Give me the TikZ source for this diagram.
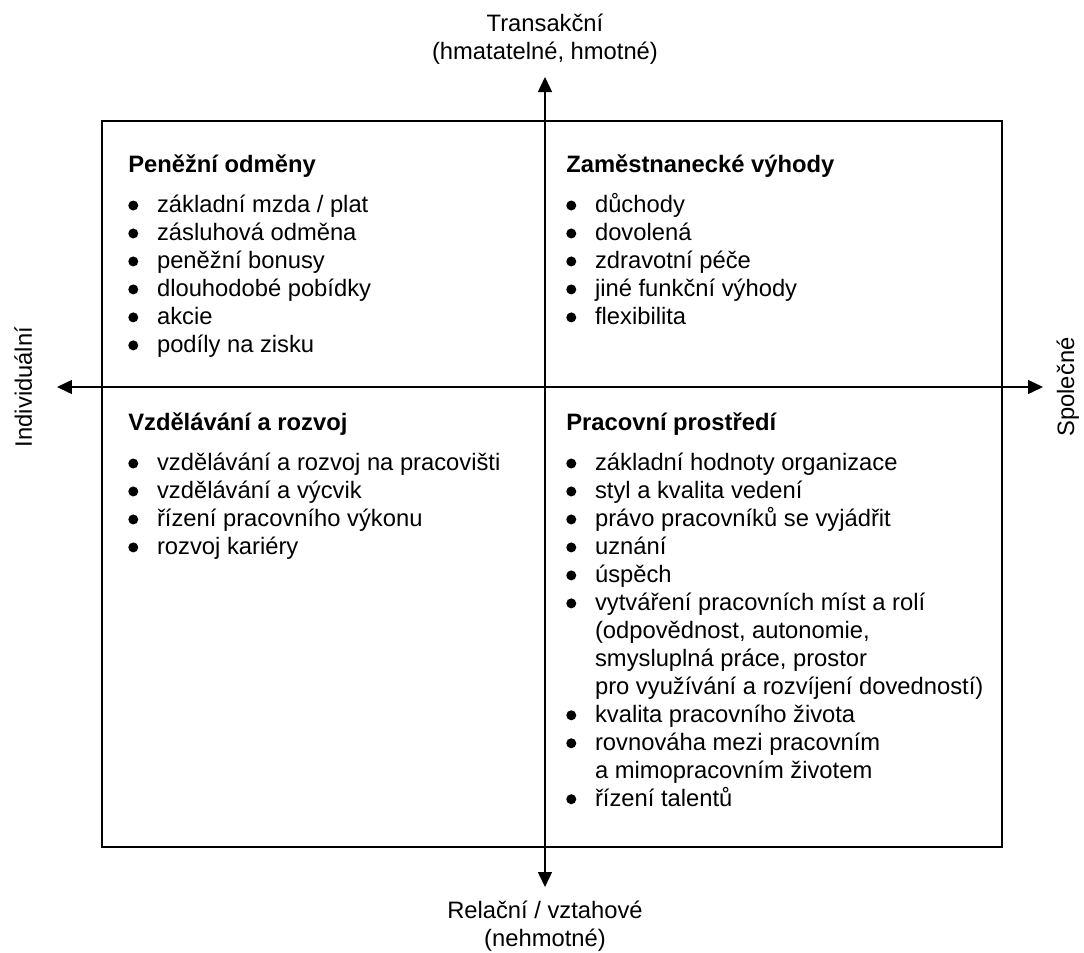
\documentclass[tikz,border=0pt]{standalone}
\usepackage{fontspec}
\setmainfont{Liberation Sans}
\usetikzlibrary{arrows.meta, positioning}
\newcommand{\bdot}{\makebox[7.2mm][l]{\tikz[baseline=0pt]{\path (0,0); \fill (1.25mm,1.75mm) circle (1.25mm);}}}
\newcommand{\cont}{\hspace*{7.2mm}}

\begin{document}
\begin{tikzpicture}[
  txt/.style={font=\fontsize{16.9}{19.9}\selectfont, inner sep=0pt},
  quad/.style={txt, align=left, anchor=north west},
  lbl/.style={txt, align=center},
  axis/.style={{Triangle[length=3.75mm, width=3.5mm]}-{Triangle[length=3.75mm, width=3.5mm]}, line width=1pt},
  frame/.style={line width=1pt}
]
\useasboundingbox (-13.625,9.675) rectangle (13.475,-14.125);
\draw[frame] (-11.075,6.65) rectangle (11.425,-11.5);

\coordinate (top) at (0,7.75);
\coordinate (bottom) at (0,-12.5);
\coordinate (left) at (-12.2,0);
\coordinate (right) at (12.45,0);
\draw[axis] (bottom) -- (top);
\draw[axis] (left) -- (right);

\node[lbl, above=3mm of top] (trans) {Transakční\\(hmatatelné, hmotné)};
\node[lbl, below=3.5mm of bottom] (rel) {Relační / vztahové\\(nehmotné)};
\node[txt, rotate=90, anchor=base] (indiv) at (-12.825,0) {Individuální};
\node[txt, rotate=90, anchor=base] (spol) at (13.225,0) {Společné};

\node[quad] (money) at (-10.425,5.8125) {\textbf{Peněžní odměny}\\[0.3cm]
  \bdot základní mzda / plat\\
  \bdot zásluhová odměna\\
  \bdot peněžní bonusy\\
  \bdot dlouhodobé pobídky\\
  \bdot akcie\\
  \bdot podíly na zisku};
\node[quad] (benefits) at (0.525,5.8125) {\textbf{Zaměstnanecké výhody}\\[0.3cm]
  \bdot důchody\\
  \bdot dovolená\\
  \bdot zdravotní péče\\
  \bdot jiné funkční výhody\\
  \bdot flexibilita};
\node[quad] (learning) at (-10.425,-0.6375) {\textbf{Vzdělávání a rozvoj}\\[0.3cm]
  \bdot vzdělávání a rozvoj na pracovišti\\
  \bdot vzdělávání a výcvik\\
  \bdot řízení pracovního výkonu\\
  \bdot rozvoj kariéry};
\node[quad] (workenv) at (0.525,-0.6375) {\textbf{Pracovní prostředí}\\[0.3cm]
  \bdot základní hodnoty organizace\\
  \bdot styl a kvalita vedení\\
  \bdot právo pracovníků se vyjádřit\\
  \bdot uznání\\
  \bdot úspěch\\
  \bdot vytváření pracovních míst a rolí\\
  \cont (odpovědnost, autonomie,\\
  \cont smysluplná práce, prostor\\
  \cont pro využívání a rozvíjení dovedností)\\
  \bdot kvalita pracovního života\\
  \bdot rovnováha mezi pracovním\\
  \cont a mimopracovním životem\\
  \bdot řízení talentů};
\end{tikzpicture}
\end{document}
